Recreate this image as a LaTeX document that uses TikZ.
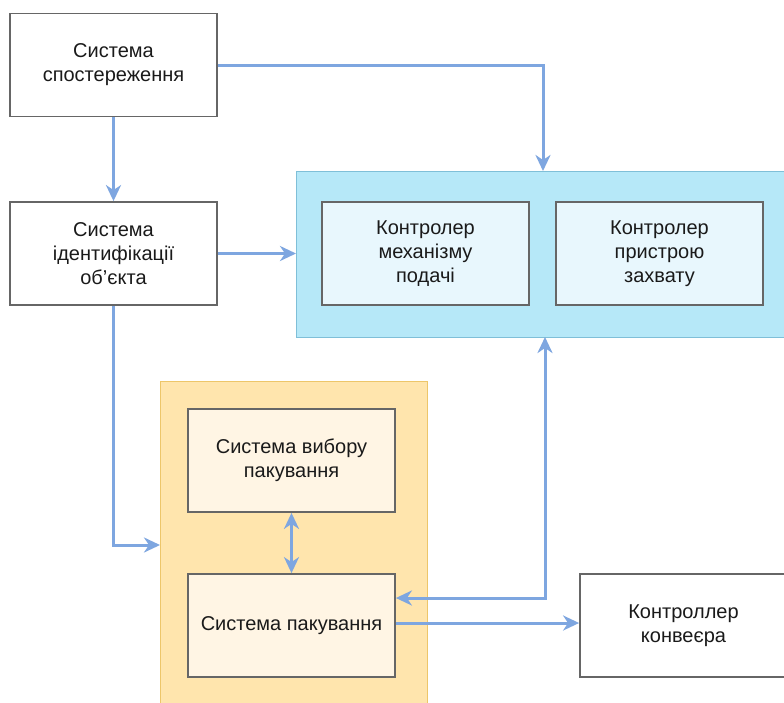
\documentclass[tikz,border=0pt]{standalone}
\usepackage{fontspec}
\setmainfont{Liberation Sans}
\usetikzlibrary{arrows.meta,positioning}

\definecolor{edgegray}{HTML}{666666}
\definecolor{flow}{HTML}{7EA6E0}
\definecolor{ctlfill}{HTML}{B6E8F8}
\definecolor{ctledge}{HTML}{7FBFD8}
\definecolor{ctlinner}{HTML}{E8F7FD}
\definecolor{packfill}{HTML}{FFE5AD}
\definecolor{packedge}{HTML}{EDC66A}
\definecolor{packinner}{HTML}{FFF5E4}
\definecolor{txt}{HTML}{1A1A1A}

\tikzset{
  block/.style={draw=edgegray, line width=1.8pt, fill=white,
    minimum width=207pt, minimum height=103pt, inner sep=0pt,
    align=center, text=txt,
    font=\fontsize{20pt}{24pt}\selectfont},
  ctlblock/.style={block, fill=ctlinner},
  packblock/.style={block, fill=packinner},
  ctlgroup/.style={draw=ctledge, line width=1.4pt, fill=ctlfill, inner sep=0pt},
  packgroup/.style={draw=packedge, line width=1.4pt, fill=packfill, inner sep=0pt},
  tip/.style={},
  flowline/.style={draw=flow, line width=3pt,
    -{Stealth[length=16pt,width=15pt,inset=5pt]}},
  flowboth/.style={flowline,
    {Stealth[length=16pt,width=15pt,inset=5pt]}-{Stealth[length=16pt,width=15pt,inset=5pt]}},
}

\begin{document}
\begin{tikzpicture}[x=1pt,y=-1pt]
  \useasboundingbox (0,0) rectangle (784,702);
  \clip (0,0) rectangle (784,702);
  \fill[white] (0,0) rectangle (784,702);

  % group backgrounds
  \node[ctlgroup, anchor=north west, minimum width=520pt, minimum height=166pt] (ctl) at (296,171) {};
  \node[packgroup, anchor=north west, minimum width=267pt, minimum height=340pt] (pack) at (160,381) {};

  % stand-alone systems
  \node[block] (obs) at (113.5,65) {Система\\спостереження};
  \node[block] (ident) at (113.5,253.5) {Система\\ідентифікації\\об'єкта};
  \node[block] (conv) at (683.5,625.5) {Контроллер\\конвеєра};

  % controllers
  \node[ctlblock] (feed) at (425.5,253.5) {Контролер\\механізму\\подачі};
  \node[ctlblock] (grip) at (659.5,253.5) {Контролер\\пристрою\\захвату};

  % packaging
  \node[packblock] (choose) at (291.5,460.5) {Система вибору\\пакування};
  \node[packblock] (packsys) at (291.5,625.5) {Система пакування};

  % connector end points on the group borders
  \coordinate (ctltop) at (543,171);
  \coordinate (ctlbot) at (545,337);
  \coordinate (packin) at (160,545);

  % connectors
  \draw[flowline] (obs.east) -| (ctltop);
  \draw[flowline] (obs.south) -- (ident.north);
  \draw[flowline] (ident.east) -- (ident.east -| ctl.west);
  \draw[flowline] (ident.south) |- (packin);
  \draw[flowboth] (choose.south) -- (packsys.north);
  \draw[flowboth] (packsys.east |- 0,598) -| (ctlbot);
  \draw[flowline] (packsys.east |- 0,623) -- (conv.west |- 0,623);
\end{tikzpicture}
\end{document}
